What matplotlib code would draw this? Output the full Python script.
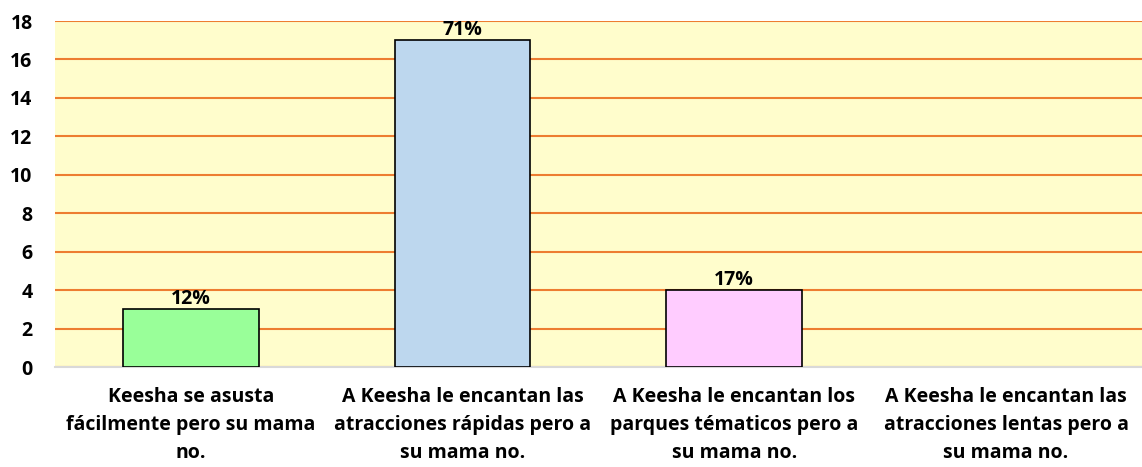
import matplotlib
matplotlib.use('Agg')
import matplotlib.pyplot as plt

# Data
categories = ['Keesha se asusta\nfácilmente pero su mama\nno.',
              'A Keesha le encantan las\natracciones rápidas pero a\nsu mama no.',
              'A Keesha le encantan los\nparques tématicos pero a\nsu mama no.',
              'A Keesha le encantan las\natracciones lentas pero a\nsu mama no.']
counts = [3, 17, 4, 0]
pct_labels = ['12%', '71%', '17%', '']
bar_colors = ['#99FF99', '#BDD7EE', '#FFCCFF', '#FFFFFF']
yticks = [0, 2, 4, 6, 8, 10, 12, 14, 16, 18]

plt.rcParams['font.family'] = ['Open Sans', 'DejaVu Sans']
plt.rcParams['font.weight'] = 'bold'

fig = plt.figure(figsize=(11.42, 4.67), dpi=100)
ax = fig.add_axes([0.048, 0.214, 0.952, 0.741])
ax.set_facecolor('#FFFDCC')

x = list(range(len(categories)))
lws = [1.2 if c > 0 else 0 for c in counts]
bars = ax.bar(x, counts, width=0.5, color=bar_colors, edgecolor='black', linewidth=lws, zorder=3)
for xi, c, lab in zip(x, counts, pct_labels):
    if lab:
        ax.text(xi, c + 0.02, lab, ha='center', va='bottom', fontsize=14, fontweight='bold', zorder=4)

ax.set_xlim(-0.5, 3.5)
ax.set_ylim(0, 18)
ax.set_yticks(yticks)
ax.yaxis.grid(True, color='#ED7D31', linewidth=1.5, zorder=1)
ax.set_axisbelow(True)
ax.set_xticks(x)
ax.set_xticklabels(categories, fontsize=14, fontweight='bold', linespacing=1.55)
ax.tick_params(axis='y', labelsize=14, length=0, pad=16)
ax.tick_params(axis='x', length=0, pad=14)
for lbl in ax.get_yticklabels():
    lbl.set_fontweight('bold')
for s in ['left', 'right', 'top']:
    ax.spines[s].set_visible(False)
ax.spines['bottom'].set_color('#D9D9D9')
ax.spines['bottom'].set_linewidth(1.5)

fig.savefig('out.png', dpi=100)
